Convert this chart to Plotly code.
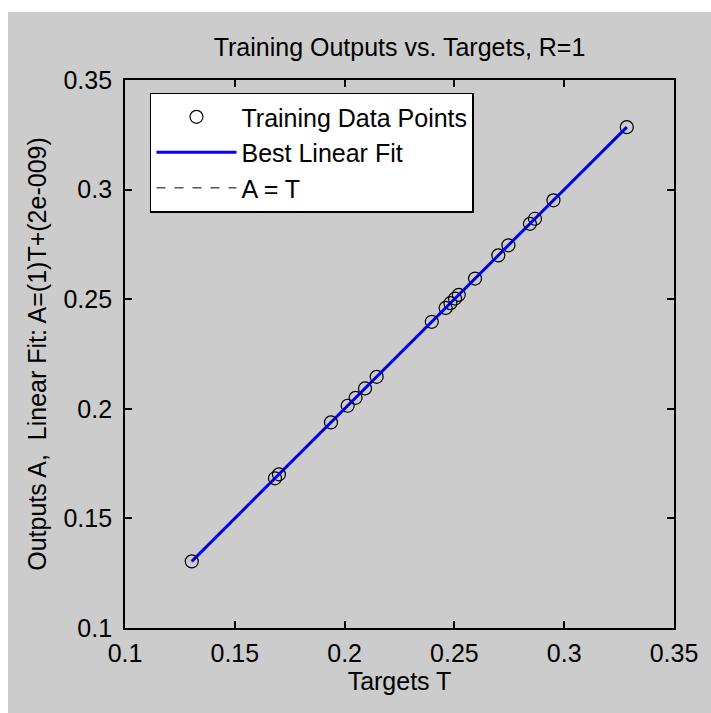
import plotly.graph_objects as go

# Data
targets = [0.1304, 0.1683, 0.1701, 0.1938, 0.2014, 0.2050, 0.2093, 0.2146,
           0.2397, 0.2460, 0.2482, 0.2503, 0.2520, 0.2594, 0.2700, 0.2746,
           0.2844, 0.2867, 0.2951, 0.3285]
outputs = [0.1304, 0.1683, 0.1701, 0.1938, 0.2014, 0.2050, 0.2093, 0.2146,
           0.2397, 0.2460, 0.2482, 0.2503, 0.2520, 0.2594, 0.2700, 0.2746,
           0.2844, 0.2867, 0.2951, 0.3285]
fit_slope = 1.0
fit_intercept = 2e-9
tick_vals = [0.1, 0.15, 0.2, 0.25, 0.3, 0.35]
tick_text = ["0.1", "0.15", "0.2", "0.25", "0.3", "0.35"]

title_text = "Training Outputs vs. Targets, R=1"
xlabel = "Targets T"
ylabel = "Outputs A,  Linear Fit: A=(1)T+(2e-009)"

FONT = "Liberation Sans, Arial, Helvetica, sans-serif"
GRAY = "#cccccc"
FS = 25

tmin, tmax = min(targets), max(targets)
fit_x = [tmin, tmax]
fit_y = [fit_slope * v + fit_intercept for v in fit_x]

fig = go.Figure()
fig.add_trace(go.Scatter(
    x=targets, y=outputs, mode="markers", name="Training Data Points",
    marker=dict(symbol="circle-open", size=13, color="black", line=dict(width=1.2, color="black")),
))
fig.add_trace(go.Scatter(
    x=fit_x, y=fit_y, mode="lines", name="Best Linear Fit",
    line=dict(color="#0000ff", width=3),
))
fig.add_trace(go.Scatter(
    x=fit_x, y=fit_x, mode="lines", name="A = T",
    line=dict(color="black", width=1, dash="dash"),
))

axis_common = dict(
    range=[0.1, 0.35], tickvals=tick_vals, ticktext=tick_text,
    ticks="inside", ticklen=7, tickwidth=1.5, tickcolor="black",
    showline=True, linecolor="black", linewidth=1.8, mirror="ticks",
    showgrid=False, zeroline=False,
    tickfont=dict(family=FONT, size=FS, color="black"),
)

fig.update_layout(
    width=711, height=713,
    margin=dict(l=125, r=37, t=80, b=85),
    paper_bgcolor="white", plot_bgcolor="white",
    font=dict(family=FONT, size=FS, color="black"),
    title=dict(text=title_text, x=0.5, xref="paper", xanchor="center",
               y=1 - 47 / 713, yanchor="middle", yref="container",
               font=dict(family=FONT, size=FS, color="black")),
    xaxis=dict(**axis_common, ticklabelstandoff=2,
               title=dict(text=xlabel, standoff=6, font=dict(family=FONT, size=FS, color="black"))),
    yaxis=dict(**axis_common, ticklabelstandoff=6,
               title=dict(text=ylabel, standoff=10, font=dict(family=FONT, size=FS, color="black"))),
    legend=dict(x=0.0455, y=0.977, xanchor="left", yanchor="top",
                bgcolor="white", bordercolor="black", borderwidth=1.5,
                itemwidth=80,
                font=dict(family=FONT, size=FS, color="black")),
    showlegend=True,
    shapes=[dict(type="rect", xref="paper", yref="paper", layer="below",
                 x0=(8 - 125) / 549, x1=1.2, y0=-0.3, y1=(628 - 12) / 548,
                 fillcolor=GRAY, line=dict(width=0))],
)

fig.write_html("out.html")
